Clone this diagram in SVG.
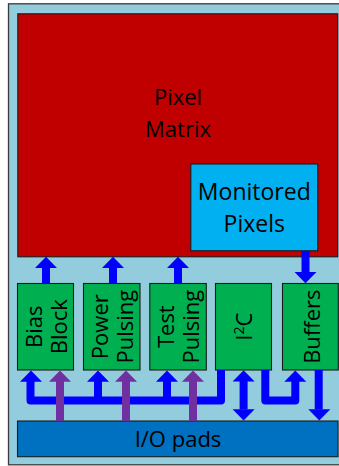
<svg xmlns="http://www.w3.org/2000/svg" xmlns:xlink="http://www.w3.org/1999/xlink" width="339" height="466" viewBox="0 0 339 466">
<style>
text{font-family:"Open Sans","Noto Sans","Liberation Sans",sans-serif;font-size:22px;fill:#000;text-anchor:middle}
.big{font-size:23px}
.box{stroke:#1a1a1a;stroke-width:1.1}
.bl{fill:none;stroke:#0000FF;stroke-width:8;stroke-linejoin:round}
.pu{fill:none;stroke:#7030A0;stroke-width:8}
.hb{fill:#0000FF}
.hp{fill:#7030A0}
</style>
<defs>
<path id="up" d="M-11,11.2 L0,0 L11,11.2 Z"/>
<path id="dn" d="M-11,-11.2 L0,0 L11,-11.2 Z"/>
</defs>
<rect x="8.5" y="3.8" width="340" height="461" fill="#93CDDD" stroke="#3a3a3a" stroke-width="1.3"/>
<g id="pixel-matrix">
<rect class="box" x="17.8" y="13.8" width="319.9" height="243" fill="#C00000"/>
<text x="178" y="105">Pixel</text>
<text x="178" y="136.7">Matrix</text>
</g>
<g id="monitored-pixels">
<rect class="box" x="190.8" y="164" width="127" height="86.8" fill="#00B0F0"/>
<text class="big" x="254.3" y="200">Monitored</text>
<text class="big" x="254.3" y="231.7">Pixels</text>
</g>
<g id="bias-block">
<rect class="box" x="17.5" y="283.5" width="56" height="86.5" fill="#00B050"/>
<text transform="translate(41.5,326.7) rotate(-90)"><tspan x="0" y="0">Bias</tspan><tspan x="0" y="25">Block</tspan></text>
</g>
<g id="power-pulsing">
<rect class="box" x="83.5" y="283.5" width="56.5" height="86.5" fill="#00B050"/>
<text transform="translate(108,326.7) rotate(-90)"><tspan x="0" y="0">Power</tspan><tspan x="0" y="25">Pulsing</tspan></text>
</g>
<g id="test-pulsing">
<rect class="box" x="149.8" y="283.5" width="56.5" height="86.5" fill="#00B050"/>
<text transform="translate(173.5,326.7) rotate(-90)"><tspan x="0" y="0">Test</tspan><tspan x="0" y="25">Pulsing</tspan></text>
</g>
<g id="i2c">
<rect class="box" x="215.5" y="283.5" width="56" height="86.5" fill="#00B050"/>
<text transform="translate(251.5,326.7) rotate(-90)">I<tspan dy="-8" font-size="14">2</tspan><tspan dy="8">C</tspan></text>
</g>
<g id="buffers">
<rect class="box" x="282.5" y="283.5" width="55.8" height="86.5" fill="#00B050"/>
<text transform="translate(320,326.7) rotate(-90)">Buffers</text>
</g>
<g id="io-pads">
<rect class="box" x="17.5" y="421" width="320.5" height="35.7" fill="#0070C0"/>
<text x="178" y="447.3">I/O pads</text>
</g>
<g id="connectors">
<path class="bl" d="M46,283.5 V266"/>
<use href="#up" class="hb" x="46" y="256.8"/>
<path class="bl" d="M113,283.5 V266"/>
<use href="#up" class="hb" x="113" y="256.8"/>
<path class="bl" d="M178,283.5 V266"/>
<use href="#up" class="hb" x="178" y="256.8"/>
<path class="bl" d="M305.5,250.8 V273"/>
<use href="#dn" class="hb" x="305.5" y="283.2"/>
<path class="bl" d="M30.5,381 V400.5 H221 V370"/>
<path class="bl" d="M98,400.5 V381"/>
<path class="bl" d="M167,400.5 V381"/>
<use href="#up" class="hb" x="31" y="370.5"/>
<use href="#up" class="hb" x="98" y="370.5"/>
<use href="#up" class="hb" x="167" y="370.5"/>
<path class="bl" d="M243.6,380.5 V409.5"/>
<use href="#up" class="hb" x="243.6" y="370.3"/>
<use href="#dn" class="hb" x="243.6" y="420.5"/>
<path class="bl" d="M265.3,370 V400.5 H295.3 V381"/>
<use href="#up" class="hb" x="295.3" y="370.5"/>
<path class="bl" d="M318.7,370 V409.5"/>
<use href="#dn" class="hb" x="319.3" y="420.5"/>
<path class="pu" d="M60,421 V381"/>
<use href="#up" class="hp" x="60" y="370.5"/>
<path class="pu" d="M126,421 V381"/>
<use href="#up" class="hp" x="126" y="370.5"/>
<path class="pu" d="M193,421 V381"/>
<use href="#up" class="hp" x="193" y="370.5"/>
</g>
</svg>
